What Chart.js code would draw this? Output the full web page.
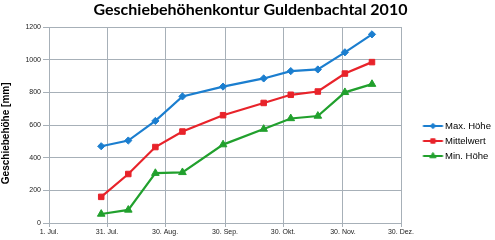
<!DOCTYPE html>
<html>
<head>
<meta charset="utf-8">
<script src="https://cdn.jsdelivr.net/npm/chart.js@4/dist/chart.umd.min.js"></script>
<style>
  html, body { margin: 0; padding: 0; background: #fff; }
  #chart_box { width: 495px; height: 240px; }
</style>
</head>
<body>
<div id="chart_box"><canvas id="chart_canvas" width="495" height="240"></canvas></div>
<script>
// data
const START_DATE = '2010-07-01';
const TICK_DATES = [ '2010-07-01', '2010-07-31', '2010-08-30', '2010-09-30', '2010-10-30', '2010-11-30', '2010-12-30' ];
const TICK_LABELS = [ '1. Jul.', '31. Jul.', '30. Aug.', '30. Sep.', '30. Okt.', '30. Nov.', '30. Dez.' ];
const MEASURE_DATES = [ '2010-07-28', '2010-08-11', '2010-08-25', '2010-09-08', '2010-09-29', '2010-10-20', '2010-11-03', '2010-11-17', '2010-12-01', '2010-12-15' ];
const MAX_HOEHE = [ 470, 505, 625, 775, 835, 885, 930, 940, 1045, 1155 ];
const MITTELWERT = [ 160, 300, 465, 560, 660, 735, 785, 805, 915, 985 ];
const MIN_HOEHE = [ 55, 80, 305, 310, 480, 575, 640, 655, 800, 850 ];
const SERIES_NAMES = [ 'Max. Höhe', 'Mittelwert', 'Min. Höhe' ];
const Y_TICKS = [ 0, 200, 400, 600, 800, 1000, 1200 ];

const COLORS = [ '#1b7ecf', '#e8232a', '#21a02d' ];
const POINT_STYLES = [ 'rectRot', 'rect', 'triangle' ];
const POINT_RADII = [ 3.6, 3.9, 4.4 ];
const GRID_COLOR = '#a7b0b8';
const TICK_FONT = { family: '"Liberation Sans", Arial, sans-serif', size: 7 };
const LEGEND_FONT = { family: '"Liberation Sans", Arial, sans-serif', size: 9.5 };

// plot box in the picture
const PLOT_LEFT = 49;
const PLOT_RIGHT = 401;
const PLOT_BOTTOM = 223;
const CANVAS_W = 495;
const CANVAS_H = 240;

function day_of( date_str ) {
  return ( Date.parse( date_str ) - Date.parse( START_DATE ) ) / 86400000;
}

function to_points( values ) {
  return values.map( ( v, i ) => ( { x: day_of( MEASURE_DATES[ i ] ), y: v } ) );
}

// legend sample: short line with the marker in the middle, right half of a wider image
function make_legend_icon( idx ) {
  const cv = document.createElement( 'canvas' );
  cv.width = 46;
  cv.height = 12;
  const ctx = cv.getContext( '2d' );
  ctx.strokeStyle = COLORS[ idx ];
  ctx.lineWidth = 2;
  ctx.beginPath();
  ctx.moveTo( 22.6, 6 );
  ctx.lineTo( 42.6, 6 );
  ctx.stroke();
  ctx.fillStyle = COLORS[ idx ];
  ctx.strokeStyle = COLORS[ idx ];
  ctx.lineWidth = 1;
  Chart.helpers.drawPoint( ctx, {
    pointStyle: POINT_STYLES[ idx ],
    radius: POINT_RADII[ idx ] - 0.8,
    rotation: 0,
    borderWidth: 1
  }, 32.6, 6 );
  return cv;
}

const LEGEND_PAD = 5.5;
const LEGEND_BOX_W = 33.75;

function legend_width() {
  const mctx = document.createElement( 'canvas' ).getContext( '2d' );
  mctx.font = LEGEND_FONT.size + 'px ' + LEGEND_FONT.family;
  const max_text = Math.max( ...SERIES_NAMES.map( t => mctx.measureText( t ).width ) );
  return LEGEND_PAD + LEGEND_BOX_W + LEGEND_FONT.size / 2 + max_text + 10;
}

function make_dataset( idx, values ) {
  return {
    label: SERIES_NAMES[ idx ],
    data: to_points( values ),
    borderColor: COLORS[ idx ],
    backgroundColor: COLORS[ idx ],
    borderWidth: 2.2,
    tension: 0,
    pointStyle: POINT_STYLES[ idx ],
    pointRadius: POINT_RADII[ idx ],
    pointBorderWidth: 1,
    pointBackgroundColor: COLORS[ idx ],
    pointBorderColor: COLORS[ idx ]
  };
}

function create_chart() {
  const tick_days = TICK_DATES.map( day_of );
  const icons = [ 0, 1, 2 ].map( make_legend_icon );
  const ctx = document.getElementById( 'chart_canvas' ).getContext( '2d' );

  new Chart( ctx, {
    type: 'line',
    data: {
      datasets: [
        make_dataset( 0, MAX_HOEHE ),
        make_dataset( 1, MITTELWERT ),
        make_dataset( 2, MIN_HOEHE )
      ]
    },
    options: {
      responsive: false,
      animation: false,
      layout: {
        padding: { left: 0, top: 0, bottom: 0, right: CANVAS_W - PLOT_RIGHT - legend_width() }
      },
      plugins: {
        title: {
          display: true,
          text: 'Geschiebehöhenkontur Guldenbachtal 2010',
          color: '#000',
          font: { family: 'Lato, sans-serif', size: 16, weight: 'bold' },
          padding: { top: 0, bottom: 7.8 }
        },
        legend: {
          position: 'right',
          align: 'center',
          fullSize: false,
          // blank title only pushes the entries down to where the picture has them
          title: { display: true, text: ' ', font: LEGEND_FONT, padding: { top: 20.6, bottom: 0 } },
          labels: {
            font: LEGEND_FONT,
            color: '#000',
            padding: LEGEND_PAD,
            usePointStyle: true,
            pointStyleWidth: LEGEND_BOX_W,
            generateLabels: chart => chart.data.datasets.map( ( ds, i ) => ( {
              text: ds.label,
              datasetIndex: i,
              pointStyle: icons[ i ],
              fillStyle: COLORS[ i ],
              strokeStyle: COLORS[ i ],
              lineWidth: 0,
              fontColor: '#000',
              hidden: false
            } ) )
          }
        },
        tooltip: { enabled: false }
      },
      scales: {
        x: {
          type: 'linear',
          min: tick_days[ 0 ],
          max: tick_days[ tick_days.length - 1 ],
          afterBuildTicks: scale => {
            scale.ticks = tick_days.map( v => ( { value: v } ) );
          },
          afterFit: scale => {
            scale.height = CANVAS_H - PLOT_BOTTOM;
          },
          ticks: {
            font: TICK_FONT,
            color: '#1a1a1a',
            padding: 1,
            maxRotation: 0,
            autoSkip: false,
            callback: v => TICK_LABELS[ tick_days.indexOf( v ) ]
          },
          grid: { color: GRID_COLOR, lineWidth: 1, tickLength: 4 },
          border: { color: GRID_COLOR, width: 1 }
        },
        y: {
          min: 0,
          max: 1200,
          afterBuildTicks: scale => {
            scale.ticks = Y_TICKS.map( v => ( { value: v } ) );
          },
          afterFit: scale => {
            scale.width = PLOT_LEFT;
          },
          ticks: {
            font: TICK_FONT,
            color: '#1a1a1a',
            padding: 2,
            callback: v => String( v )
          },
          grid: { color: GRID_COLOR, lineWidth: 1, tickLength: 6 },
          border: { color: GRID_COLOR, width: 1 },
          title: {
            display: true,
            // trailing spaces move the label down a little, as in the picture
            text: 'Geschiebehöhe [mm]      ',
            color: '#000',
            font: { family: '"Liberation Sans", Arial, sans-serif', size: 10, weight: 'bold' },
            padding: { top: 0.5, bottom: 0 }
          }
        }
      }
    }
  } );
}

document.addEventListener( 'DOMContentLoaded', function () {
  create_chart();
} );
</script>
</body>
</html>
